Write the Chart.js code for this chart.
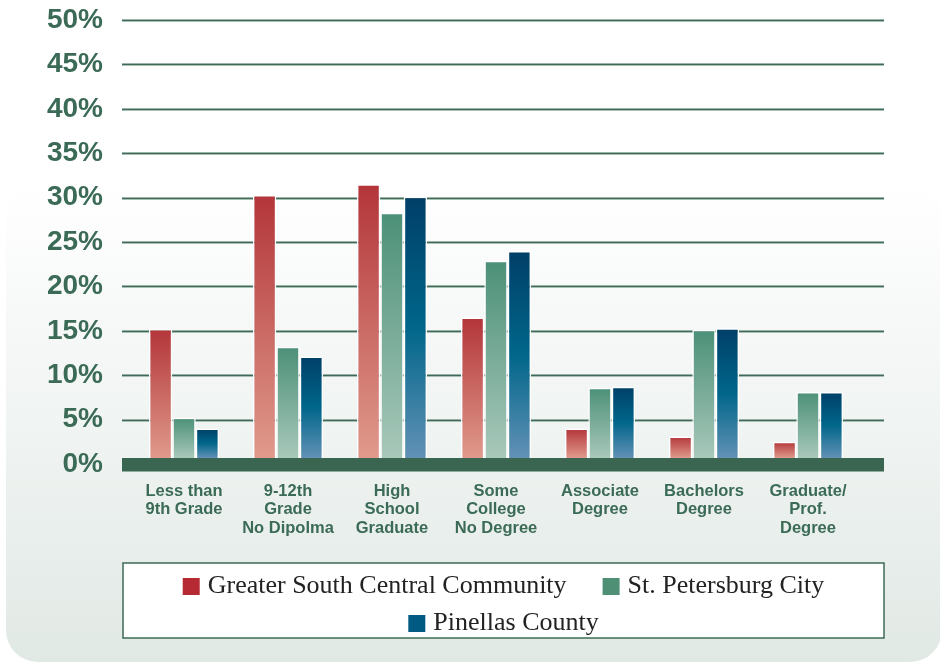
<!DOCTYPE html>
<html>
<head>
<meta charset="utf-8">
<script src="https://cdn.jsdelivr.net/npm/chart.js@4.4.1/dist/chart.umd.min.js"></script>
<style>
  html, body { margin: 0; padding: 0; background: #ffffff; }
  #wrap { width: 940px; height: 667px; position: relative; }
  canvas { display: block; }
</style>
</head>
<body>
<div id="wrap"><canvas id="c" width="940" height="667"></canvas></div>
<script>
// ---------------- DATA ----------------
const categories = [
  ["Less than", "9th Grade"],
  ["9-12th", "Grade", "No Dipolma"],
  ["High", "School", "Graduate"],
  ["Some", "College", "No Degree"],
  ["Associate", "Degree"],
  ["Bachelors", "Degree"],
  ["Graduate/", "Prof.", "Degree"]
];
const seriesNames = ["Greater South Central Community", "St. Petersburg City", "Pinellas County"];
const greaterSouthCentral = [15.2, 30.3, 31.5, 16.5, 4.0, 3.1, 2.5];
const stPetersburgCity    = [5.2, 13.2, 28.3, 22.9, 8.6, 15.1, 8.1];
const pinellasCounty      = [4.0, 12.1, 30.1, 24.0, 8.7, 15.3, 8.1];
const yTickValues = [0, 5, 10, 15, 20, 25, 30, 35, 40, 45, 50];

// ---------------- STYLE ----------------
const GREEN_TEXT = '#3b6b56';
const legendColors = ['#b52a33', '#4e8f76', '#005a82'];
const gradStops = [
  [[0, '#b3353a'], [1, '#e09a8c']],
  [[0, '#4c9078'], [1, '#a8c8ba']],
  [[0, '#003f68'], [0.5, '#00668a'], [1, '#6291b6']]
];

function barGradient(stops, fallback) {
  return function (ctx) {
    const chart = ctx.chart;
    if (!chart.chartArea || ctx.type !== 'data' || !chart.scales.y) return fallback;
    const ys = chart.scales.y;
    const top = ys.getPixelForValue(ctx.raw);
    const base = ys.getPixelForValue(0) - 6;
    const g = chart.ctx.createLinearGradient(0, top, 0, Math.max(base, top + 1));
    stops.forEach(s => g.addColorStop(s[0], s[1]));
    return g;
  };
}

const backgroundPlugin = {
  id: 'cardBg',
  beforeDraw(chart) {
    const ctx = chart.ctx;
    ctx.save();
    ctx.fillStyle = '#ffffff';
    ctx.fillRect(0, 0, chart.width, chart.height);
    const x = 6, y = 185, w = chart.width + 2 - 6, h = chart.height - 5 - 185, r = 32;
    const g = ctx.createLinearGradient(0, y, 0, y + h);
    g.addColorStop(0, '#ffffff');
    g.addColorStop(1, '#e1e9e5');
    ctx.fillStyle = g;
    ctx.beginPath();
    ctx.moveTo(x + r, y);
    ctx.lineTo(x + w - r, y);
    ctx.arcTo(x + w, y, x + w, y + r, r);
    ctx.lineTo(x + w, y + h - r);
    ctx.arcTo(x + w, y + h, x + w - r, y + h, r);
    ctx.lineTo(x + r, y + h);
    ctx.arcTo(x, y + h, x, y + h - r, r);
    ctx.lineTo(x, y + r);
    ctx.arcTo(x, y, x + r, y, r);
    ctx.closePath();
    ctx.fill();
    ctx.restore();
  }
};

const gridPlugin = {
  id: 'extGrid',
  beforeDatasetsDraw(chart) {
    const ctx = chart.ctx, ca = chart.chartArea, ys = chart.scales.y;
    const x0 = ca.left - 10, x1 = ca.right + 24;
    ctx.save();
    ys.ticks.forEach(t => {
      if (t.value === 0) return;
      const py = Math.round(ys.getPixelForValue(t.value));
      ctx.fillStyle = '#a9bfb4';
      ctx.fillRect(x0, py + 1, x1 - x0, 1);
      ctx.fillStyle = '#3f6b58';
      ctx.fillRect(x0, py - 0.5, x1 - x0, 1.5);
    });
    ctx.restore();
  },
  afterDatasetsDraw(chart) {
    const ctx = chart.ctx, ca = chart.chartArea, ys = chart.scales.y;
    const x0 = ca.left - 10, x1 = ca.right + 24;
    const y0 = ys.getPixelForValue(0);
    ctx.save();
    ctx.fillStyle = '#3a6550';
    ctx.fillRect(x0, y0 - 6, x1 - x0, 13.5);
    ctx.restore();
  }
};

const legendPlugin = {
  id: 'boxLegend',
  afterDraw(chart) {
    const ctx = chart.ctx, ca = chart.chartArea;
    const bx = ca.left - 9, bw = ca.right + 24 - bx;
    const by = chart.height - 104, bh = 75;
    ctx.save();
    ctx.fillStyle = '#ffffff';
    ctx.fillRect(bx, by, bw, bh);
    ctx.strokeStyle = '#3d6b57';
    ctx.lineWidth = 1.5;
    ctx.strokeRect(bx, by, bw, bh);

    ctx.font = '26px "Liberation Serif", "Times New Roman", serif';
    ctx.textBaseline = 'alphabetic';
    ctx.textAlign = 'left';
    const box = 17, textGap = 8, itemGap = 36, maxRow = bw - 40;
    const items = chart.data.datasets.map((d, i) => ({
      label: d.label, color: legendColors[i],
      w: box + textGap + ctx.measureText(d.label).width
    }));
    const rows = [];
    let cur = [], curW = 0;
    items.forEach(it => {
      const add = cur.length ? itemGap + it.w : it.w;
      if (cur.length && curW + add > maxRow) { rows.push({items: cur, w: curW}); cur = [it]; curW = it.w; }
      else { cur.push(it); curW += add; }
    });
    if (cur.length) rows.push({items: cur, w: curW});
    const cx = bx + bw / 2;
    rows.forEach((row, ri) => {
      const base = by + 30 + ri * 37;
      let x = cx - row.w / 2;
      row.items.forEach(it => {
        ctx.fillStyle = it.color;
        ctx.fillRect(x, base - 15, box, box);
        ctx.fillStyle = '#222222';
        ctx.fillText(it.label, x + box + textGap, base);
        x += it.w + itemGap;
      });
    });
    ctx.restore();
  }
};

const datasets = [greaterSouthCentral, stPetersburgCity, pinellasCounty].map((vals, i) => ({
  label: seriesNames[i],
  data: vals,
  backgroundColor: barGradient(gradStops[i], legendColors[i]),
  borderColor: '#ffffff',
  borderWidth: 1.5,
  borderSkipped: 'bottom',
  barPercentage: 1.0,
  categoryPercentage: 0.675
}));

new Chart(document.getElementById('c'), {
  type: 'bar',
  data: { labels: categories, datasets },
  plugins: [backgroundPlugin, gridPlugin, legendPlugin],
  options: {
    responsive: false,
    animation: false,
    devicePixelRatio: 1,
    layout: { padding: { left: 0, right: 80, top: 20, bottom: 130 } },
    plugins: { legend: { display: false }, tooltip: { enabled: false } },
    scales: {
      x: {
        grid: { display: false, drawTicks: false },
        border: { display: false },
        ticks: {
          color: GREEN_TEXT,
          font: { family: '"Liberation Sans", Arial, sans-serif', size: 16.5, weight: 'bold', lineHeight: 1.12 },
          padding: 18,
          maxRotation: 0,
          autoSkip: false
        },
        afterFit(s) { s.height = 73; s.paddingLeft = 0; s.paddingRight = 0; }
      },
      y: {
        min: 0, max: 50,
        grid: { display: false, drawTicks: false },
        border: { display: false },
        afterBuildTicks(s) { s.ticks = yTickValues.map(v => ({ value: v })); },
        ticks: {
          color: GREEN_TEXT,
          font: { family: '"Liberation Sans", Arial, sans-serif', size: 28, weight: 'bold' },
          padding: 29,
          callback: v => v + '%'
        },
        afterFit(s) { s.width = 132; s.paddingTop = 0; s.paddingBottom = 0; }
      }
    }
  }
});
</script>
</body>
</html>
